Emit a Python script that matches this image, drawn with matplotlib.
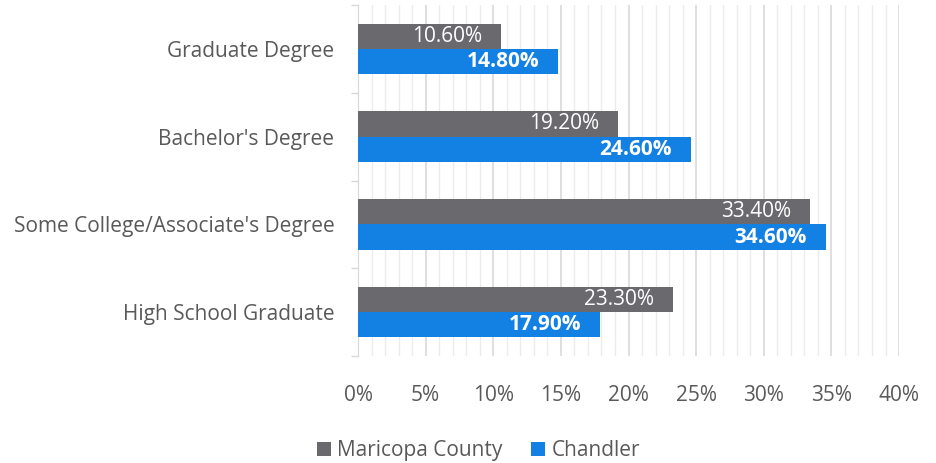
import numpy as np
import matplotlib.pyplot as plt
from matplotlib.ticker import MultipleLocator, FuncFormatter

categories = ["Graduate Degree", "Bachelor's Degree",
              "Some College/Associate's Degree", "High School Graduate"]
maricopa = [10.6, 19.2, 33.4, 23.3]
chandler = [14.8, 24.6, 34.6, 17.9]
series_names = ["Maricopa County", "Chandler"]

grey = "#6a6a6e"
blue = "#1380e4"
txt = "#595959"

plt.rcParams['font.family'] = ['Open Sans', 'DejaVu Sans']

fig = plt.figure(figsize=(9.36, 4.63), dpi=100)
ax = fig.add_axes([0.3825, 0.2311, 0.578, 0.7581])

y = np.arange(len(categories))
h = 0.288
b1 = ax.barh(y - h / 2, maricopa, height=h, color=grey, label=series_names[0], zorder=3)
b2 = ax.barh(y + h / 2, chandler, height=h, color=blue, label=series_names[1], zorder=3)

for bar, v in zip(b1, maricopa):
    ax.text(v - 1.4, bar.get_y() + bar.get_height() / 2, f"{v:.2f}%",
            ha='right', va='center', color='white', fontsize=15, zorder=4)
for bar, v in zip(b2, chandler):
    ax.text(v - 1.4, bar.get_y() + bar.get_height() / 2, f"{v:.2f}%",
            ha='right', va='center', color='white', fontsize=15,
            fontweight='bold', zorder=4)

ax.set_xlim(0, 40)
ax.set_ylim(len(categories) - 0.5, -0.5)
ax.xaxis.set_major_locator(MultipleLocator(5))
ax.xaxis.set_minor_locator(MultipleLocator(1))
ax.xaxis.set_major_formatter(FuncFormatter(lambda v, p: f"{v:.0f}%"))
ax.grid(axis='x', which='minor', color='#ececec', lw=1, zorder=0)
ax.grid(axis='x', which='major', color='#d9d9d9', lw=1.2, zorder=0)
ax.tick_params(axis='x', which='both', length=0, pad=21, labelsize=15, labelcolor=txt)

ax.set_yticks(y)
ax.set_yticklabels(categories)
ax.set_yticks(np.arange(len(categories) + 1) - 0.5, minor=True)
ax.tick_params(axis='y', which='major', length=0, pad=17, labelsize=15, labelcolor=txt)
ax.tick_params(axis='y', which='minor', length=5, color='#d9d9d9', width=1)

for s in ['top', 'right', 'bottom']:
    ax.spines[s].set_visible(False)
ax.spines['left'].set_color('#d9d9d9')

leg = fig.legend(loc='center', bbox_to_anchor=(0.511, 0.026), ncol=2, frameon=False,
                 fontsize=15, handlelength=0.67, handleheight=0.67, columnspacing=1.4,
                 handletextpad=0.3)
for t in leg.get_texts():
    t.set_color(txt)

fig.savefig("out.png", dpi=100)
